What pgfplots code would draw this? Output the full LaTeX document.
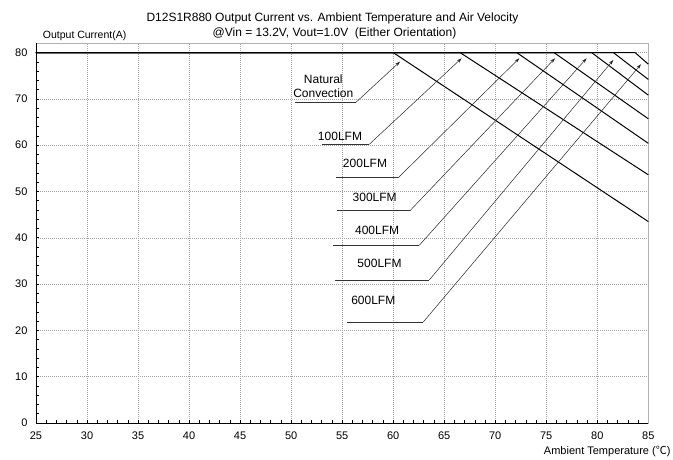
\documentclass[border=0pt]{standalone}
\usepackage{fontspec}
\setmainfont{Liberation Sans}
\newfontfamily\cjk{Noto Sans CJK SC}
\usepackage{pgfplots}
\pgfplotsset{compat=1.18}
\usetikzlibrary{arrows.meta}

\begin{document}
\begin{tikzpicture}
\path[use as bounding box] (0,0) rectangle (673pt,460pt);
\begin{axis}[
  at={(36pt,37pt)}, anchor=south west,
  scale only axis, width=612.3pt, height=379.7pt,
  xmin=25, xmax=85, ymin=0, ymax=82,
  xtick={25,30,...,85}, ytick={0,10,...,80},
  minor x tick num=4, minor y tick num=4,
  tick align=inside, xtick pos=left, ytick pos=left,
  major tick length=3pt, minor tick length=3pt,
  grid=major,
  major grid style={gray!70, line width=0.5pt, dash pattern=on 1pt off 1pt},
  axis line style={gray!60, line width=0.6pt},
  tick style={black, line width=0.6pt},
  ticklabel style={font=\fontsize{11pt}{13pt}\selectfont},
  xticklabel style={yshift=-5pt},
  yticklabel style={xshift=-5pt},
  /pgf/number format/assume math mode=true,
  clip=false,
]
% Natural convection
\addplot[black, line width=1pt] coordinates {(25,80) (60,80) (85,43.5)};
% 100LFM
\addplot[black, line width=1pt] coordinates {(25,80) (66.55,80) (85,53.6)};
% 200LFM
\addplot[black, line width=1pt] coordinates {(25,80) (72.1,80) (85,60.4)};
% 300LFM
\addplot[black, line width=1pt] coordinates {(25,80) (75.76,80) (85,65.7)};
% 400LFM
\addplot[black, line width=1pt] coordinates {(25,80) (79.45,80) (85,70.8)};
% 500LFM
\addplot[black, line width=1pt] coordinates {(25,80) (81.57,80) (85,74.2)};
% 600LFM
\addplot[black, line width=1pt] coordinates {(25,80) (83.7,80) (85,77.5)};

% black left and bottom axis lines
\draw[black, line width=0.9pt] (rel axis cs:0,1) -- (rel axis cs:0,0) -- (rel axis cs:1,0);

% annotations
\tikzset{lead/.style={gray!30!black, line width=0.5pt, -{Stealth[length=5pt,width=3.2pt]}},
         uline/.style={black!80, line width=0.8pt},
         lab/.style={font=\fontsize{12pt}{14pt}\selectfont, inner sep=0pt}}
% Natural
\draw[uline] (axis cs:50.38,69.27) -- (axis cs:56.36,69.27);
\draw[lead] (axis cs:56.36,69.27) -- (axis cs:60.67,78.03);
\node[lab, align=center] at (axis cs:53.15,72.8) {Natural\\Convection};
% 100
\draw[uline] (axis cs:52.99,60.19) -- (axis cs:57.66,60.19);
\draw[lead] (axis cs:57.66,60.19) -- (axis cs:66.71,78.77);
\node[lab] at (axis cs:54.79,61.92) {100LFM};
% 200
\draw[uline] (axis cs:54.40,52.98) -- (axis cs:60.50,52.98);
\draw[lead] (axis cs:60.50,52.98) -- (axis cs:72.36,78.77);
\node[lab] at (axis cs:57.24,56.16) {200LFM};
% 300
\draw[uline] (axis cs:54.47,45.85) -- (axis cs:61.65,45.85);
\draw[lead] (axis cs:61.65,45.85) -- (axis cs:75.86,78.77);
\node[lab] at (axis cs:58.19,48.81) {300LFM};
% 400
\draw[uline] (axis cs:54.13,38.38) -- (axis cs:62.56,38.38);
\draw[lead] (axis cs:62.56,38.38) -- (axis cs:78.96,78.77);
\node[lab] at (axis cs:58.43,41.62) {400LFM};
% 500
\draw[uline] (axis cs:54.30,30.89) -- (axis cs:63.54,30.89);
\draw[lead] (axis cs:63.54,30.89) -- (axis cs:81.57,78.40);
\node[lab] at (axis cs:58.66,34.56) {500LFM};
% 600
\draw[uline] (axis cs:55.44,21.81) -- (axis cs:62.95,21.81);
\draw[lead] (axis cs:62.95,21.81) -- (axis cs:84.28,77.47);
\node[lab] at (axis cs:58.05,26.39) {600LFM};
\end{axis}

\node[anchor=base, font=\fontsize{12pt}{14pt}\selectfont] at (332.5pt,438.3pt)
  {D12S1R880 Output Current vs. Ambient Temperature and Air Velocity};
\node[anchor=base, font=\fontsize{12pt}{14pt}\selectfont] at (334.5pt,423.3pt)
  {@Vin = 13.2V, Vout=1.0V\ \ (Either Orientation)};
\node[anchor=base west, inner sep=0pt, font=\fontsize{10.5pt}{12pt}\selectfont] at (42.7pt,421.7pt)
  {Output Current(A)};
\node[anchor=base east, inner sep=0pt, font=\fontsize{11pt}{13pt}\selectfont] at (670.7pt,5pt)
  {Ambient Temperature ({\cjk ℃})};
\end{tikzpicture}
\end{document}
